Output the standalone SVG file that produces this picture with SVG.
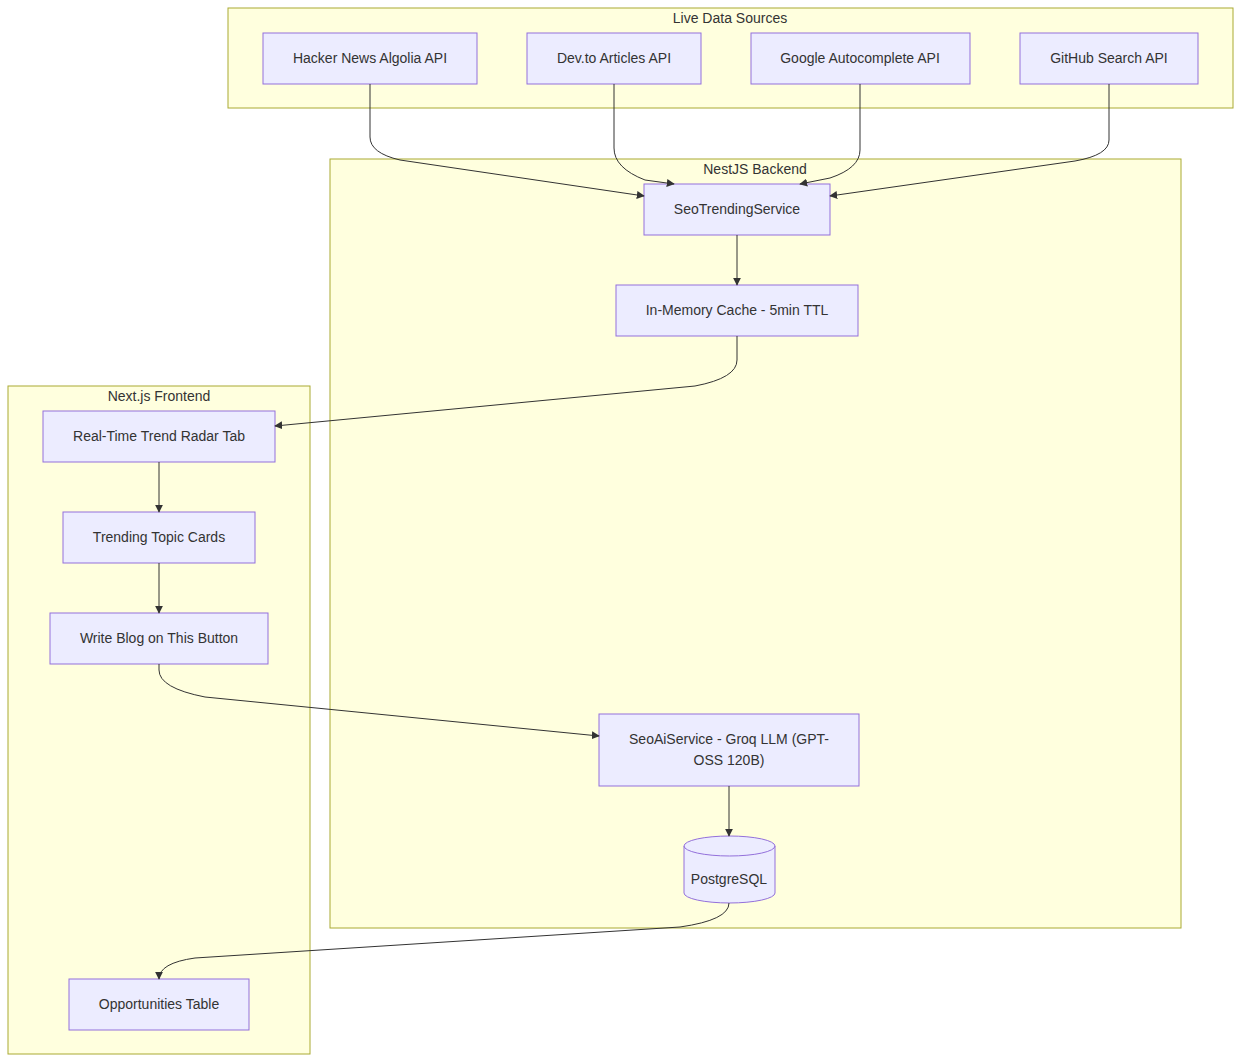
<svg xmlns="http://www.w3.org/2000/svg" width="1241" height="1063" viewBox="0 0 1241 1063">
<style>
.c{fill:#ffffde;stroke:#aaaa33;stroke-width:1}
.n{fill:#ececff;stroke:#9370db;stroke-width:1}
text{font-family:"Liberation Sans",Arial,sans-serif;font-size:14px;fill:#333;text-anchor:middle}
.e{fill:none;stroke:#333;stroke-width:1;marker-end:url(#a)}
</style>
<defs><marker id="a" viewBox="0 0 10 10" refX="9" refY="5" markerWidth="8" markerHeight="8" orient="auto"><path d="M0,0L10,5L0,10z" fill="#333"/></marker></defs>
<rect width="1241" height="1063" fill="#fff"/>
<g id="live"><rect class="c" x="228" y="8" width="1005" height="100"/><text x="730" y="23">Live Data Sources</text></g>
<g id="nest"><rect class="c" x="330" y="159" width="851" height="769"/><text x="755" y="174">NestJS Backend</text></g>
<g id="next"><rect class="c" x="8" y="386" width="302" height="668"/><text x="159" y="401">Next.js Frontend</text></g>
<g id="hn"><rect class="n" x="263" y="33" width="214" height="51"/><text x="370" y="63">Hacker News Algolia API</text></g>
<g id="dev"><rect class="n" x="527" y="33" width="174" height="51"/><text x="614" y="63">Dev.to Articles API</text></g>
<g id="goog"><rect class="n" x="751" y="33" width="219" height="51"/><text x="860" y="63">Google Autocomplete API</text></g>
<g id="gh"><rect class="n" x="1020" y="33" width="178" height="51"/><text x="1109" y="63">GitHub Search API</text></g>
<g id="sts"><rect class="n" x="644" y="184" width="186" height="51"/><text x="737" y="214">SeoTrendingService</text></g>
<g id="cache"><rect class="n" x="616" y="285" width="242" height="51"/><text x="737" y="315">In-Memory Cache - 5min TTL</text></g>
<g id="ai"><rect class="n" x="599" y="714" width="260" height="72"/><text x="729" y="744">SeoAiService - Groq LLM (GPT-</text><text x="729" y="765">OSS 120B)</text></g>
<g id="pg"><path class="n" d="M684,846 A45.5,10 0 0 1 775,846 L775,893 A45.5,10 0 0 1 684,893 Z"/><path d="M684,846 A45.5,10 0 0 0 775,846" fill="none" stroke="#9370db"/><text x="729" y="884">PostgreSQL</text></g>
<g id="rt"><rect class="n" x="43" y="411" width="232" height="51"/><text x="159" y="441">Real-Time Trend Radar Tab</text></g>
<g id="tc"><rect class="n" x="63" y="512" width="192" height="51"/><text x="159" y="542">Trending Topic Cards</text></g>
<g id="wb"><rect class="n" x="50" y="613" width="218" height="51"/><text x="159" y="643">Write Blog on This Button</text></g>
<g id="opp"><rect class="n" x="69" y="979" width="180" height="51"/><text x="159" y="1009">Opportunities Table</text></g>
<g id="edges">
<path class="e" d="M370,84 L370,137 Q370,153 400,160 L644,196"/>
<path class="e" d="M614,84 L614,148 Q614,168 645,180 L674,184"/>
<path class="e" d="M860,84 L860,150 Q860,168 830,178 L800,184"/>
<path class="e" d="M1109,84 L1109,140 Q1109,155 1075,161 L830,196"/>
<path class="e" d="M737,235 L737,285"/>
<path class="e" d="M737,336 L737,360 Q737,378 695,386 L275,426"/>
<path class="e" d="M159,462 L159,512"/>
<path class="e" d="M159,563 L159,613"/>
<path class="e" d="M159,664 L159,670 Q159,688 205,697 L599,736"/>
<path class="e" d="M729,786 L729,836"/>
<path class="e" d="M729,903 Q729,920 680,927 L195,958 Q159,963 159,979"/>
</g>
</svg>
